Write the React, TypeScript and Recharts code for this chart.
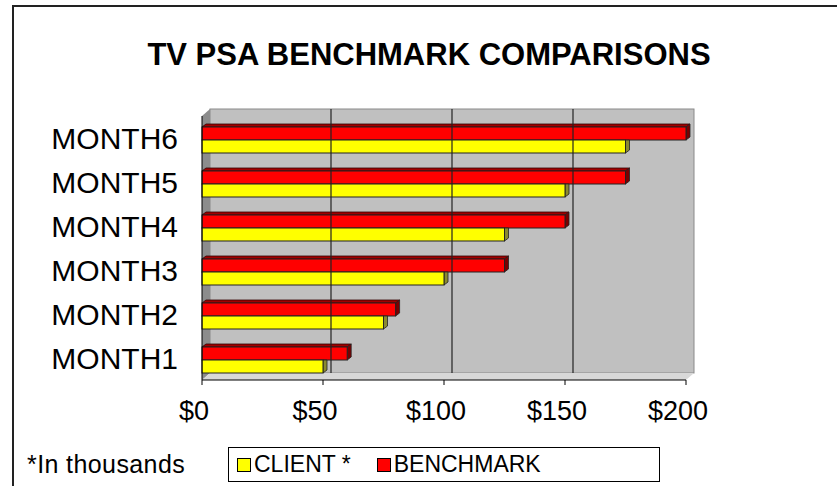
import { BarChart, Bar, XAxis, YAxis, ReferenceArea, ReferenceLine } from 'recharts';

const months = ['MONTH1', 'MONTH2', 'MONTH3', 'MONTH4', 'MONTH5', 'MONTH6'];
const clientValues = [50, 75, 100, 125, 150, 175];
const benchmarkValues = [60, 80, 125, 150, 175, 200];
const xTicks = [0, 50, 100, 150, 200];

const data = months.map((month, i) => ({
  month,
  client: clientValues[i],
  benchmark: benchmarkValues[i],
}));

const FONT = '"Liberation Sans", Arial, sans-serif';
const DX = 8; // depth of the back wall
const DY = 7;

function Box3D(props: any) {
  const { x, y, width, height, fill, topFill, sideFill, showTop } = props;
  if (!width || width <= 0) return null;
  const d = 4;
  const dv = 3;
  const fy = y + dv;
  const bottom = y + height;
  const right = x + width;
  const side = showTop
    ? `${right},${fy} ${right + d},${y} ${right + d},${bottom - dv} ${right},${bottom}`
    : `${right},${fy} ${right + d},${fy} ${right + d},${bottom - dv} ${right},${bottom}`;
  return (
    <g>
      {showTop && (
        <polygon
          points={`${x},${fy} ${x + d},${y} ${right + d},${y} ${right},${fy}`}
          fill={topFill}
          stroke="#300"
          strokeWidth={0.8}
        />
      )}
      <polygon points={side} fill={sideFill} stroke="#222" strokeWidth={0.8} />
      <rect x={x} y={fy} width={width} height={bottom - fy} fill={fill} stroke="#222" strokeWidth={1} />
    </g>
  );
}

function Walls(props: any) {
  const { x, y, width, height } = props;
  const b = y + height;
  return (
    <g>
      <rect x={x + DX} y={y - DY} width={width} height={height} fill="#c0c0c0" stroke="#8a8a8a" />
      <polygon points={`${x},${y} ${x + DX},${y - DY} ${x + DX},${b - DY} ${x},${b}`} fill="#8c8c8c" />
      <polygon points={`${x},${b} ${x + DX},${b - DY} ${x + width + DX},${b - DY} ${x + width},${b}`} fill="#d8d8d8" />
    </g>
  );
}

function WallLine(props: any) {
  const { x1, y1, x2, y2 } = props;
  return <line x1={x1 + DX} y1={y1 - DY} x2={x2 + DX} y2={y2 - DY} stroke="#222" strokeWidth={1.2} />;
}

export default function App() {
  return (
    <div style={{ position: 'absolute', left: 0, top: 0, width: 837, height: 486, background: '#fff', overflow: 'hidden', fontFamily: FONT }}>
      <div style={{ position: 'absolute', left: 12, top: 5, width: 840, height: 500, borderTop: '2px solid #222', borderLeft: '2px solid #222' }} />
      <div style={{ position: 'absolute', left: 0, width: 858, top: 39, textAlign: 'center', fontSize: 31, lineHeight: '31px', fontWeight: 'bold', color: '#000' }}>
        TV PSA BENCHMARK COMPARISONS
      </div>
      <div style={{ position: 'absolute', left: 0, top: 0 }}>
        <BarChart
          width={837}
          height={486}
          data={data}
          layout="vertical"
          margin={{ top: 116, right: 151, bottom: 56, left: 0 }}
          barSize={16}
          barGap={-3}
        >
          <XAxis
            type="number"
            domain={[0, 200]}
            ticks={xTicks}
            tickFormatter={(v) => `$${v}`}
            height={50}
            tickSize={5}
            tickMargin={16}
            axisLine={{ stroke: '#000' }}
            tickLine={{ stroke: '#000' }}
            tick={{ fontSize: 27, fill: '#000', fontFamily: FONT, dx: -8 }}
          />
          <YAxis
            type="category"
            dataKey="month"
            reversed
            width={202}
            tickLine={false}
            tickMargin={18}
            axisLine={{ stroke: '#000' }}
            tick={{ fontSize: 30, fill: '#000', fontFamily: FONT }}
          />
          <ReferenceArea x1={0} x2={200} shape={<Walls />} />
          {xTicks.slice(1, -1).map((t) => (
            <ReferenceLine key={t} x={t} shape={(p: any) => <WallLine {...p} />} />
          ))}
          <Bar
            dataKey="benchmark"
            isAnimationActive={false}
            shape={(p: any) => <Box3D {...p} fill="#ff0000" topFill="#a00000" sideFill="#7a0000" showTop />}
          />
          <Bar
            dataKey="client"
            isAnimationActive={false}
            shape={(p: any) => <Box3D {...p} fill="#ffff00" topFill="#999900" sideFill="#8a8a30" showTop={false} />}
          />
        </BarChart>
      </div>
      <div style={{ position: 'absolute', left: 27, top: 452, fontSize: 25, lineHeight: '25px', color: '#000', letterSpacing: 0.4 }}>*In thousands</div>
      <div
        style={{
          position: 'absolute',
          left: 228,
          top: 447,
          width: 432,
          height: 35,
          boxSizing: 'border-box',
          border: '1px solid #000',
          display: 'flex',
          alignItems: 'center',
          fontSize: 23,
          color: '#000',
        }}
      >
        <span style={{ display: 'inline-block', width: 12, height: 12, background: '#ffff00', border: '1px solid #000', marginLeft: 8, marginRight: 3 }} />
        <span>CLIENT *</span>
        <span style={{ display: 'inline-block', width: 12, height: 12, background: '#ff0000', border: '1px solid #000', marginLeft: 26, marginRight: 3 }} />
        <span>BENCHMARK</span>
      </div>
    </div>
  );
}
